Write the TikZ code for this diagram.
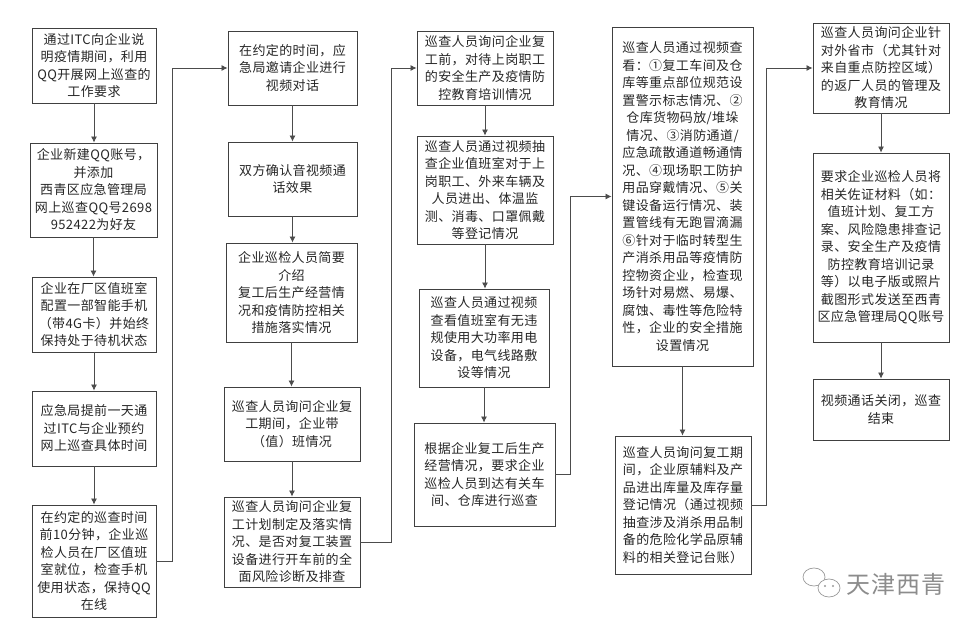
\documentclass[tikz,border=0pt]{standalone}
\usepackage{fontspec}
\newfontfamily\cjk[LetterSpace=3]{Noto Sans CJK SC}
\usetikzlibrary{arrows.meta}

\begin{document}
\begin{tikzpicture}[x=1pt,y=-1pt,
  box/.style={draw=black!75, line width=0.9pt, align=center, inner sep=0pt,
    font=\cjk\fontsize{13}{17.5}\selectfont, text=black!85},
  link/.style={draw=black!70, line width=0.8pt, -{Latex[length=6pt,width=6pt]}}]
\useasboundingbox (0,0) rectangle (976,627);

% first column
\node[box, minimum width=124, minimum height=75] (b1) at (94,65.5)
  {通过ITC向企业说\\明疫情期间，利用\\QQ开展网上巡查的\\工作要求};
\node[box, minimum width=127, minimum height=94] (b2) at (93.5,190)
  {企业新建QQ账号，\\并添加\\西青区应急管理局\\网上巡查QQ号2698\\952422为好友};
\node[box, minimum width=124, minimum height=75] (b3) at (94,314.5)
  {企业在厂区值班室\\配置一部智能手机\\（带4G卡）并始终\\保持处于待机状态};
\node[box, minimum width=124, minimum height=75] (b4) at (94,428.5)
  {应急局提前一天通\\过ITC与企业预约\\网上巡查具体时间};
\node[box, minimum width=124, minimum height=112] (b5) at (94,561)
  {在约定的巡查时间\\前10分钟，企业巡\\检人员在厂区值班\\室就位，检查手机\\使用状态，保持QQ\\在线};

% second column
\node[box, minimum width=129, minimum height=74] (b6) at (292.5,68)
  {在约定的时间，应\\急局邀请企业进行\\视频对话};
\node[box, minimum width=129, minimum height=74] (b7) at (292.5,179)
  {双方确认音视频通\\话效果};
\node[box, minimum width=131, minimum height=99] (b8) at (291.5,292.5)
  {企业巡检人员简要\\介绍\\复工后生产经营情\\况和疫情防控相关\\措施落实情况};
\node[box, minimum width=136, minimum height=74] (b9) at (292,424)
  {巡查人员询问企业复\\工期间，企业带\\（值）班情况};
\node[box, minimum width=136, minimum height=90] (b10) at (292,542)
  {巡查人员询问企业复\\工计划制定及落实情\\况、是否对复工装置\\设备进行开车前的全\\面风险诊断及排查};

% third column
\node[box, minimum width=136, minimum height=74] (b11) at (485,68)
  {巡查人员询问企业复\\工前，对待上岗职工\\的安全生产及疫情防\\控教育培训情况};
\node[box, minimum width=136, minimum height=108] (b12) at (485,190)
  {巡查人员通过视频抽\\查企业值班室对于上\\岗职工、外来车辆及\\人员进出、体温监\\测、消毒、口罩佩戴\\等登记情况};
\node[box, minimum width=130, minimum height=98] (b13) at (484,338)
  {巡查人员通过视频\\查看值班室有无违\\规使用大功率用电\\设备，电气线路敷\\设等情况};
\node[box, minimum width=141, minimum height=103] (b14) at (484.5,474.5)
  {根据企业复工后生产\\经营情况，要求企业\\巡检人员到达有关车\\间、仓库进行巡查};

% fourth column
\node[box, minimum width=141, minimum height=339] (b15) at (682.5,196.5)
  {巡查人员通过视频查\\看：①复工车间及仓\\库等重点部位规范设\\置警示标志情况、②\\仓库货物码放/堆垛\\情况、③消防通道/\\应急疏散通道畅通情\\况、④现场职工防护\\用品穿戴情况、⑤关\\键设备运行情况、装\\置管线有无跑冒滴漏\\⑥针对于临时转型生\\产消杀用品等疫情防\\控物资企业，检查现\\场针对易燃、易爆、\\腐蚀、毒性等危险特\\性，企业的安全措施\\设置情况};
\node[box, minimum width=136, minimum height=138] (b16) at (683,505)
  {巡查人员询问复工期\\间，企业原辅料及产\\品进出库量及库存量\\登记情况（通过视频\\抽查涉及消杀用品制\\备的危险化学品原辅\\料的相关登记台账）};

% fifth column
\node[box, minimum width=136, minimum height=90] (b17) at (881,68)
  {巡查人员询问企业针\\对外省市（尤其针对\\来自重点防控区域）\\的返厂人员的管理及\\教育情况};
\node[box, minimum width=136, minimum height=189] (b18) at (881,247.5)
  {要求企业巡检人员将\\相关佐证材料（如：\\值班计划、复工方\\案、风险隐患排查记\\录、安全生产及疫情\\防控教育培训记录\\等）以电子版或照片\\截图形式发送至西青\\区应急管理局QQ账号};
\node[box, minimum width=136, minimum height=61] (b19) at (881,409.5)
  {视频通话关闭，巡查\\结束};

% arrows down the columns
\foreach \a/\b in {b1/b2,b2/b3,b3/b4,b4/b5,b6/b7,b7/b8,b8/b9,b9/b10,
  b11/b12,b12/b13,b13/b14,b15/b16,b17/b18,b18/b19}
  \draw[link] (\a.south) -- (\a.south |- \b.north);

% arrows between columns
\draw[link] (b5.east) -- ++(16,0) |- (b6.west);
\draw[link] (b10.east) -- ++(31,0) |- (b11.west);
\draw[link] (b14.east) -- ++(15,0) |- (b15.west);
\draw[link] (b16.east) -- ++(15,0) |- (b17.west);

% watermark
\draw[black!40, line width=0.7pt] (814,577) circle [x radius=11pt, y radius=9pt];
\draw[black!40, line width=0.7pt, fill=white] (829,588) circle [x radius=11pt, y radius=9pt];
\fill[black!40] (825,586) circle (1.1pt) (833,586) circle (1.1pt);
\node[font=\cjk\fontsize{24}{24}\selectfont, text=black!45] (mark) at (896,584) {天津西青};

\end{tikzpicture}
\end{document}
